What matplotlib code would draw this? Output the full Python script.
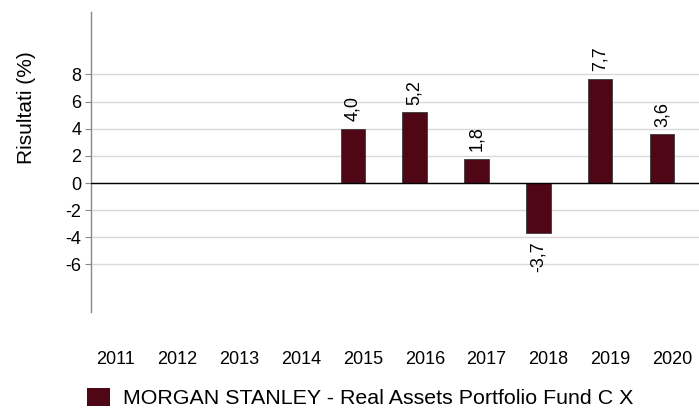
import matplotlib
matplotlib.use("Agg")
import matplotlib.pyplot as plt
import matplotlib.transforms as mtransforms
from matplotlib.patches import Patch
import numpy as np

plt.rcParams['font.family'] = ['Liberation Sans', 'DejaVu Sans']

years = ['2011', '2012', '2013', '2014', '2015', '2016', '2017', '2018', '2019', '2020']
values = [None, None, None, None, 4.0, 5.2, 1.8, -3.7, 7.7, 3.6]
labels = ['', '', '', '', '4,0', '5,2', '1,8', '-3,7', '7,7', '3,6']
yticks = [-6, -4, -2, 0, 2, 4, 6, 8]
series_name = 'MORGAN STANLEY - Real Assets Portfolio Fund C X'

bar_color = '#4f0716'

fig = plt.figure(figsize=(6.99, 4.09), dpi=100)
ax = fig.add_axes([91/699, 1-312/409, 608/699, 300/409])

x = np.arange(len(years))
vals = np.array([np.nan if v is None else v for v in values])
ax.bar(x, np.nan_to_num(vals), width=0.4, color=bar_color, edgecolor='#3a3a3a', linewidth=0.6, zorder=3)

for xi, v, lab in zip(x, vals, labels):
    if np.isnan(v):
        continue
    if v >= 0:
        ax.annotate(lab, (xi, v), xytext=(0, 5.5), textcoords='offset points',
                    rotation=90, ha='center', va='bottom', fontsize=13)
    else:
        ax.annotate(lab, (xi, v), xytext=(0, -5.5), textcoords='offset points',
                    rotation=90, ha='center', va='top', fontsize=13)

ax.set_xlim(-0.24, 9.6)
ax.set_ylim(-9.5, 12.6)
ax.set_yticks(yticks)
ax.set_yticklabels([str(t) for t in yticks], fontsize=13)
ax.set_xticks(x)
ax.set_xticklabels(years, fontsize=13)
ax.tick_params(axis='x', length=0, pad=28)
ax.tick_params(axis='y', length=4, width=0.8, color='#888888', pad=3)
offset = mtransforms.ScaledTranslation(10/100, 0, fig.dpi_scale_trans)
for lbl in ax.get_xticklabels():
    lbl.set_transform(lbl.get_transform() + offset)

ax.grid(axis='y', color='#d9d9d9', linewidth=1, zorder=0)
ax.axhline(0, color='black', linewidth=1, zorder=4)
for s in ['top', 'right', 'bottom']:
    ax.spines[s].set_visible(False)
ax.spines['left'].set_color('#888888')
ax.spines['left'].set_linewidth(1)

ax.set_ylabel('Risultati (%)', fontsize=15)
ax.yaxis.set_label_coords(-0.09, 0.68)

handle = Patch(facecolor=bar_color, edgecolor='none')
fig.legend(handles=[handle], labels=[series_name], loc='center left',
           bbox_to_anchor=(87/699, 1-398/409), frameon=False, fontsize=15.4,
           borderpad=0, borderaxespad=0,
           handlelength=1.07, handleheight=0.9, handletextpad=0.6)

fig.savefig('out.png', dpi=100)
